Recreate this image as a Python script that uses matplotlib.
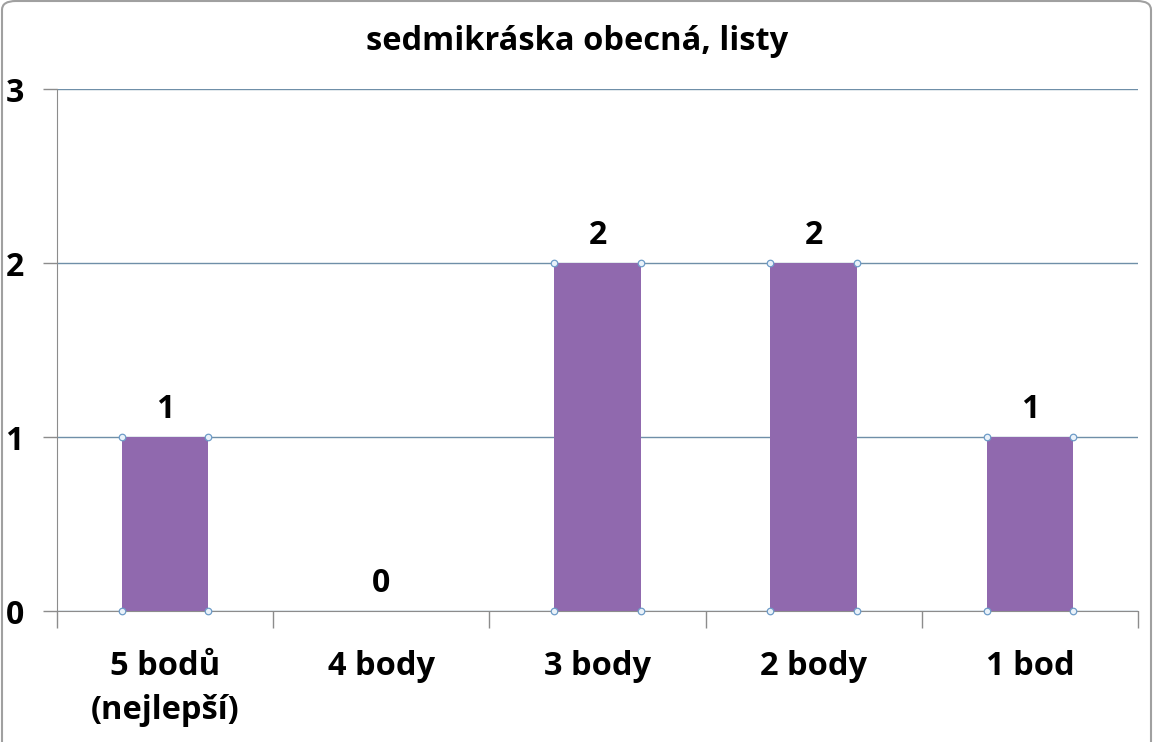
import matplotlib.pyplot as plt
from matplotlib.patches import FancyBboxPatch
import numpy as np

plt.rcParams['font.family'] = ['Open Sans', 'DejaVu Sans']
plt.rcParams['font.weight'] = 'bold'

categories = ['5 bodů\n(nejlepší)', '4 body', '3 body', '2 body', '1 bod']
values = [1, 0, 2, 2, 1]
title = 'sedmikráska obecná, listy'

bar_color = '#9069AE'
grid_color = '#6F8FA8'
axis_color = '#8C8C8C'

fig = plt.figure(figsize=(11.55, 7.42), dpi=100)
ax = fig.add_axes([57 / 1155, 1 - 611 / 742, (1138 - 57) / 1155, (611 - 89) / 742])

x = np.arange(len(categories))
w = 0.4
ax.bar(x, values, width=w, color=bar_color, zorder=2)

# selection handles at bar corners
for xi, v in zip(x, values):
    if v > 0:
        hx = [xi - w / 2, xi + w / 2, xi - w / 2, xi + w / 2]
        hy = [0, 0, v, v]
        ax.scatter(hx, hy, s=22, facecolor='#EAF2FA', edgecolor='#6E9CC8',
                   linewidth=0.9, zorder=4, clip_on=False)

for xi, v in zip(x, values):
    ax.annotate(str(v), (xi, v), xytext=(0, 20), textcoords='offset points',
                ha='center', va='center', fontsize=23, fontweight='bold')

ax.set_xlim(-0.5, len(categories) - 0.5)
ax.set_ylim(0, 3)
ax.set_yticks([0, 1, 2, 3])
ax.yaxis.grid(True, color=grid_color, linewidth=1, zorder=0)
ax.set_axisbelow(True)

ax.set_xticks(x)
ax.set_xticklabels(categories, fontsize=23.5, fontweight='bold', linespacing=1.45)
ax.tick_params(axis='x', length=0, pad=28)
ax.set_xticks(np.arange(len(categories) + 1) - 0.5, minor=True)
ax.tick_params(axis='x', which='minor', length=12, color=axis_color, width=1)
ax.tick_params(axis='y', length=10, color=axis_color, width=1, pad=14,
               labelsize=23)
for lbl in ax.get_yticklabels():
    lbl.set_fontweight('bold')

for s in ['top', 'right']:
    ax.spines[s].set_visible(False)
ax.spines['left'].set_color(axis_color)
ax.spines['bottom'].set_color(axis_color)

fig.text(0.5, 1 - 42 / 742, title, ha='center', va='center', fontsize=23.5,
         fontweight='bold')

border = FancyBboxPatch((2 / 1155, -0.02), 1 - 6 / 1155, 1.02 - 1 / 742,
                        boxstyle='round,pad=0,rounding_size=0.012',
                        transform=fig.transFigure, facecolor='none',
                        edgecolor='#A0A0A0', linewidth=1.5)
fig.patches.append(border)

fig.savefig('out.png', dpi=100)
